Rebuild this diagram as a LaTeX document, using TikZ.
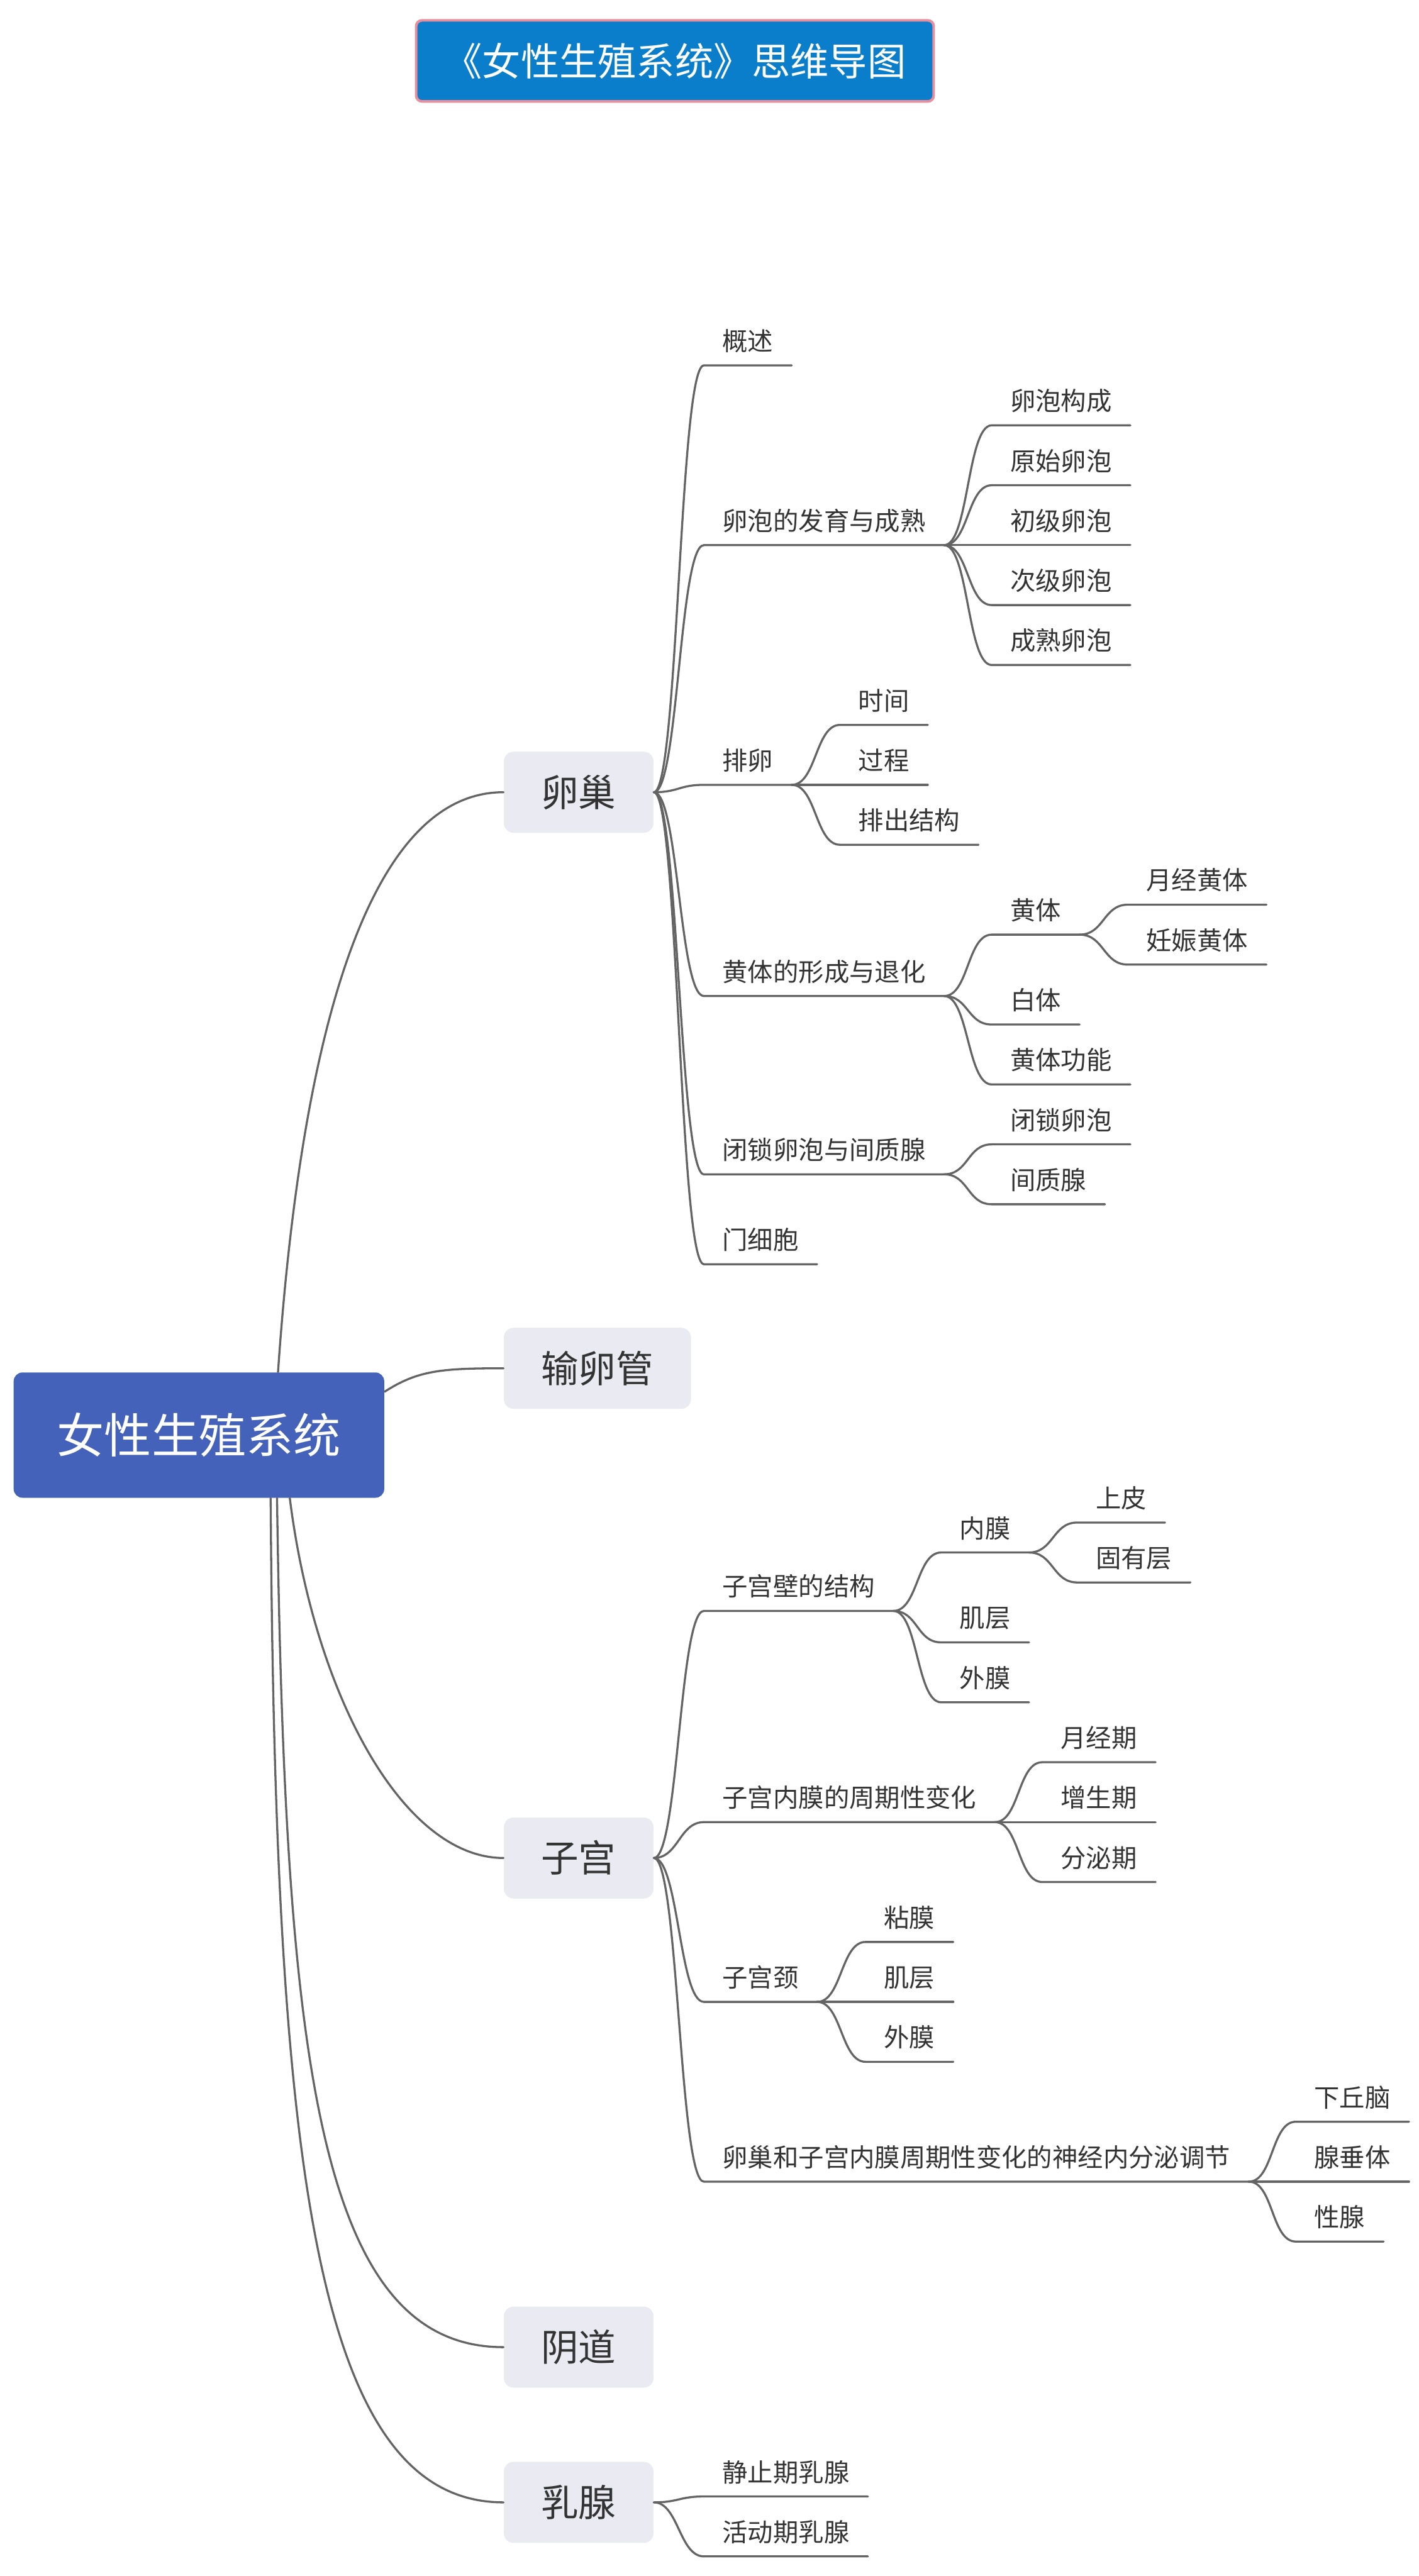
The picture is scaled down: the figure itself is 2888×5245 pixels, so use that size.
\documentclass[tikz,border=0pt]{standalone}
\usepackage{fontspec}
\setmainfont{Noto Sans CJK SC}
\usetikzlibrary{calc}

\definecolor{titleblue}{RGB}{10,126,202}
\definecolor{titleedge}{RGB}{232,142,156}
\definecolor{rootblue}{RGB}{68,98,186}
\definecolor{mainfill}{RGB}{233,234,242}
\definecolor{linegray}{RGB}{100,100,100}
\definecolor{textgray}{RGB}{51,51,51}

\tikzset{
  mapline/.style={draw=linegray, line width=1.2pt, line cap=round},
  fork/.style={out=0, in=180, out distance=5mm, in distance=5mm},
  topic/.style={anchor=south west, inner xsep=3.7mm, inner ysep=0pt, text=textgray,
    font=\fontsize{14.7pt}{17pt}\selectfont, text height=4.3mm, text depth=2.94mm},
  mainbox/.style={anchor=west, fill=mainfill, rounded corners=2mm, text=textgray,
    inner xsep=7.6mm, minimum height=16.5mm,
    font=\fontsize{21.7pt}{26pt}\selectfont, text height=6.3mm, text depth=0.5mm},
  rootbox/.style={fill=rootblue, rounded corners=1.8mm, text=white,
    minimum width=75.4mm, minimum height=25.5mm,
    font=\fontsize{27.4pt}{32pt}\selectfont, text height=8mm, text depth=0.7mm},
  titlebox/.style={fill=titleblue, draw=titleedge, line width=1.5pt, rounded corners=1.2mm,
    text=white, minimum width=105.3mm, minimum height=16.5mm,
    font=\fontsize{22.3pt}{26pt}\selectfont, text height=6.5mm, text depth=0.5mm},
}

\begin{document}
\begin{tikzpicture}[x=0.01cm, y=-0.01cm]
  \useasboundingbox (0,0) rectangle (2888,5245);

  \node[titlebox] (title) at (1374,124) {《女性生殖系统》思维导图};
  \node[rootbox] (root) at (405,2922) {女性生殖系统};

  \node[mainbox] (ovary) at (1025,1613) {卵巢};
  \node[mainbox] (tube) at (1025,2786) {输卵管};
  \node[mainbox] (uterus) at (1025,3783) {子宫};
  \node[mainbox] (vagina) at (1025,4779) {阴道};
  \node[mainbox] (breast) at (1025,5095) {乳腺};

  % main branches
  \draw[mapline] ($(root.north)+(161,0)$) .. controls +(34,-495) and +(-325,0) .. (ovary.west);
  \draw[mapline] ($(root.north east)+(0,40)$) .. controls +(68,-44) and +(-125,0) .. (tube.west);
  \draw[mapline] ($(root.south)+(185,0)$) .. controls +(50,400) and +(-205,0) .. (uterus.west);
  \draw[mapline] ($(root.south)+(159,0)$) .. controls +(16,1150) and +(-375,0) .. (vagina.west);
  \draw[mapline] ($(root.south)+(146,0)$) .. controls +(9,1350) and +(-385,0) .. (breast.west);

  % ovary
  \foreach \name/\txt/\y in {intro/概述/744, follicle/卵泡的发育与成熟/1110,
      ovulation/排卵/1598, luteum/黄体的形成与退化/2028,
      atresia/闭锁卵泡与间质腺/2391, hilus/门细胞/2574}{
    \node[topic] (\name) at (1433,\y) {\txt};
    \draw[mapline] (ovary.east) to[fork] (\name.south west) -- (\name.south east);
  }
  \foreach \name/\txt/\y in {f1/卵泡构成/866, f2/原始卵泡/988, f3/初级卵泡/1110,
      f4/次级卵泡/1232, f5/成熟卵泡/1354}{
    \node[topic] (\name) at (2019,\y) {\txt};
    \draw[mapline] (follicle.south east) to[fork] (\name.south west) -- (\name.south east);
  }
  \foreach \name/\txt/\y in {o1/时间/1476, o2/过程/1598, o3/排出结构/1720}{
    \node[topic] (\name) at (1710,\y) {\txt};
    \draw[mapline] (ovulation.south east) to[fork] (\name.south west) -- (\name.south east);
  }
  \foreach \name/\txt/\y in {l1/黄体/1903, l2/白体/2086, l3/黄体功能/2208}{
    \node[topic] (\name) at (2019,\y) {\txt};
    \draw[mapline] (luteum.south east) to[fork] (\name.south west) -- (\name.south east);
  }
  \foreach \name/\txt/\y in {lm/月经黄体/1842, lp/妊娠黄体/1964}{
    \node[topic] (\name) at (2296,\y) {\txt};
    \draw[mapline] (l1.south east) to[fork] (\name.south west) -- (\name.south east);
  }
  \foreach \name/\txt/\y in {a1/闭锁卵泡/2330, a2/间质腺/2452}{
    \node[topic] (\name) at (2019,\y) {\txt};
    \draw[mapline] (atresia.south east) to[fork] (\name.south west) -- (\name.south east);
  }

  % uterus
  \foreach \name/\txt/\y in {wall/子宫壁的结构/3280, cycle/子宫内膜的周期性变化/3710,
      cervix/子宫颈/4076, neuro/卵巢和子宫内膜周期性变化的神经内分泌调节/4442}{
    \node[topic] (\name) at (1433,\y) {\txt};
    \draw[mapline] (uterus.east) to[fork] (\name.south west) -- (\name.south east);
  }
  \foreach \name/\txt/\y in {w1/内膜/3161, w2/肌层/3344, w3/外膜/3466}{
    \node[topic] (\name) at (1916,\y) {\txt};
    \draw[mapline] (wall.south east) to[fork] (\name.south west) -- (\name.south east);
  }
  \foreach \name/\txt/\y in {e1/上皮/3100, e2/固有层/3222}{
    \node[topic] (\name) at (2193,\y) {\txt};
    \draw[mapline] (w1.south east) to[fork] (\name.south west) -- (\name.south east);
  }
  \foreach \name/\txt/\y in {c1/月经期/3588, c2/增生期/3710, c3/分泌期/3832}{
    \node[topic] (\name) at (2122,\y) {\txt};
    \draw[mapline] (cycle.south east) to[fork] (\name.south west) -- (\name.south east);
  }
  \foreach \name/\txt/\y in {v1/粘膜/3954, v2/肌层/4076, v3/外膜/4198}{
    \node[topic] (\name) at (1762,\y) {\txt};
    \draw[mapline] (cervix.south east) to[fork] (\name.south west) -- (\name.south east);
  }
  \foreach \name/\txt/\y in {n1/下丘脑/4320, n2/腺垂体/4442, n3/性腺/4564}{
    \node[topic] (\name) at (2638,\y) {\txt};
    \draw[mapline] (neuro.south east) to[fork] (\name.south west) -- (\name.south east);
  }

  % breast
  \foreach \name/\txt/\y in {b1/静止期乳腺/5083, b2/活动期乳腺/5205}{
    \node[topic] (\name) at (1433,\y) {\txt};
    \draw[mapline] (breast.east) to[fork] (\name.south west) -- (\name.south east);
  }
\end{tikzpicture}
\end{document}
